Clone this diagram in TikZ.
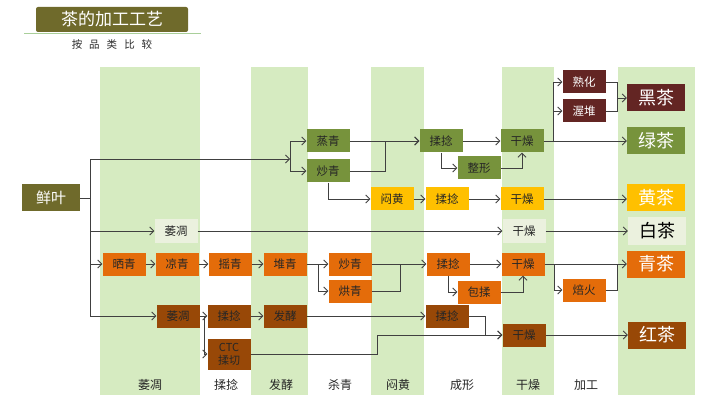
\documentclass[tikz,border=0pt]{standalone}
\usepackage{fontspec}
\setmainfont{Noto Sans CJK SC}
\usetikzlibrary{arrows.meta}
\definecolor{band}{RGB}{214,235,193}
\definecolor{olive}{RGB}{111,106,43}
\definecolor{leafgreen}{RGB}{119,147,60}
\definecolor{darkred}{RGB}{99,37,35}
\definecolor{teayellow}{RGB}{255,192,0}
\definecolor{teaorange}{RGB}{228,108,10}
\definecolor{teabrown}{RGB}{152,72,7}
\definecolor{palebox}{RGB}{235,241,222}
\definecolor{linegray}{RGB}{64,64,64}
\definecolor{titleline}{RGB}{169,207,154}
\tikzset{
  proc/.style={minimum width=43pt, minimum height=23pt, inner sep=0pt, text=black!85, font=\fontsize{11.5}{13}\selectfont},
  grn/.style={proc, fill=leafgreen},
  ylw/.style={proc, fill=teayellow},
  org/.style={proc, fill=teaorange},
  brn/.style={proc, fill=teabrown},
  drd/.style={proc, fill=darkred, text=white},
  pale/.style={proc, fill=palebox},
  tea/.style={minimum width=58pt, minimum height=27pt, inner sep=0pt, text=white, font=\fontsize{18}{20}\selectfont},
  flow/.style={draw=linegray, line width=0.8pt},
  colname/.style={text=black!85, font=\fontsize{12}{14}\selectfont},
}
\begin{document}
\begin{tikzpicture}[x=1pt, y=-1pt, >={Straight Barb[length=4pt,width=8pt]}]
    \useasboundingbox (0,0) rectangle (720,406);
    \fill[band] (100,67) rectangle (200,395);
    \fill[band] (251,67) rectangle (308,395);
    \fill[band] (371,67) rectangle (424,395);
    \fill[band] (502,67) rectangle (554,395);
    \fill[band] (618,67) rectangle (695,395);
    \fill[olive, rounded corners=2pt] (36,7) rectangle (188,32);
    \node[text=white, font=\fontsize{17}{19}\selectfont] (title) at (112,19.5) {茶的加工工艺};
    \draw[titleline, line width=1.5pt] (24,33.5) -- (201,33.5);
    \node[text=black!85, font=\fontsize{10.5}{12}\selectfont] (subtitle) at (112,44) {按\hspace{7pt}品\hspace{7pt}类\hspace{7pt}比\hspace{7pt}较};
    \node[colname] (c1) at (150,385) {萎凋};
    \node[colname] (c2) at (226,385) {揉捻};
    \node[colname] (c3) at (281,385) {发酵};
    \node[colname] (c4) at (340,385) {杀青};
    \node[colname] (c5) at (398,385) {闷黄};
    \node[colname] (c6) at (462,385) {成形};
    \node[colname] (c7) at (528,385) {干燥};
    \node[colname] (c8) at (586,385) {加工};
    \node[proc, fill=olive, text=white, minimum width=58pt, minimum height=27pt, font=\fontsize{15}{17}\selectfont] (xy) at (51,198) {鲜叶};
    \node[grn] (zq) at (328,141) {蒸青};
    \node[grn] (cqg) at (328,171) {炒青};
    \node[grn] (rng) at (441,141) {揉捻};
    \node[grn] (zx) at (479,168) {整形};
    \node[grn] (gzg) at (522,141) {干燥};
    \node[drd] (sh) at (584,82) {熟化};
    \node[drd] (wd) at (584,111) {渥堆};
    \node[tea, fill=darkred] (hei) at (656,98) {黑茶};
    \node[tea, fill=leafgreen] (lv) at (656,141) {绿茶};
    \node[ylw] (mh) at (392,199) {闷黄};
    \node[ylw] (rny) at (447,199) {揉捻};
    \node[ylw] (gzy) at (522,199) {干燥};
    \node[tea, fill=teayellow] (huang) at (656,198) {黄茶};
    \node[pale] (wdw) at (176,231) {萎凋};
    \node[pale] (gzw) at (524,231) {干燥};
    \node[tea, fill=palebox, text=black] (bai) at (657,231) {白茶};
    \node[org] (sq) at (124,264) {晒青};
    \node[org] (lq) at (177,264) {凉青};
    \node[org] (yq) at (230,264) {摇青};
    \node[org] (dq) at (285,264) {堆青};
    \node[org] (cqo) at (350,264) {炒青};
    \node[org] (hq) at (350,291) {烘青};
    \node[org] (rno) at (448,264) {揉捻};
    \node[org] (br) at (479,292) {包揉};
    \node[org] (gzo) at (523,264) {干燥};
    \node[org] (bh) at (584,290) {焙火};
    \node[tea, fill=teaorange] (qing) at (656,264) {青茶};
    \node[brn] (wdb) at (178,316) {萎凋};
    \node[brn] (rnb) at (229,316) {揉捻};
    \node[brn, minimum height=31pt, align=center, font=\fontsize{11}{13}\selectfont] (ctc) at (229,354) {CTC\\揉切};
    \node[brn] (fj) at (285,316) {发酵};
    \node[brn] (rnb2) at (447,316) {揉捻};
    \node[brn] (gzb) at (524,335) {干燥};
    \node[tea, fill=teabrown] (hong) at (657,335) {红茶};
    \coordinate (j0) at (90,198);
    \coordinate (g1) at (290,159);
    \coordinate (b1) at (553,141);
    \coordinate (b2) at (617,98);
    \coordinate (b3) at (318,264);
    \coordinate (b4) at (554,264);
    \coordinate (b5) at (204,316);
    \coordinate (b6) at (377,335);
    \draw[flow] (xy.east) -- (j0);
    \draw[flow, ->] (j0) |- (g1);
    \draw[flow, ->] (g1) |- (zq.west);
    \draw[flow, ->] (g1) |- (cqg.west);
    \draw[flow, ->] (j0) |- (wdw.west);
    \draw[flow, ->] (j0) |- (sq.west);
    \draw[flow, ->] (j0) |- (wdb.west);
    \draw[flow, ->] (zq.east) -- (rng.west);
    \draw[flow, ->] (cqg.east) -- ++(36,0) |- (rng.west);
    \draw[flow, ->] (rng.east) -- (gzg.west);
    \draw[flow, ->] (rng.south) |- (zx.west);
    \draw[flow, ->] (zx.east) -| (gzg.south);
    \draw[flow, ->] (gzg.east) -- (lv.west);
    \draw[flow, ->] (b1) |- (sh.west);
    \draw[flow, ->] (b1) |- (wd.west);
    \draw[flow] (sh.east) -| (b2);
    \draw[flow] (wd.east) -| (b2);
    \draw[flow, ->] (b2) -- (hei.west);
    \draw[flow, ->] (cqg.south) |- (mh.west);
    \draw[flow, ->] (mh.east) -- (rny.west);
    \draw[flow, ->] (rny.east) -- (gzy.west);
    \draw[flow, ->] (gzy.east) -- (gzy.east -| huang.west);
    \draw[flow, ->] (wdw.east) -- (gzw.west);
    \draw[flow, ->] (gzw.east) -- (bai.west);
    \draw[flow, ->] (sq.east) -- (lq.west);
    \draw[flow, ->] (lq.east) -- (yq.west);
    \draw[flow, ->] (yq.east) -- (dq.west);
    \draw[flow, ->] (dq.east) -- (cqo.west);
    \draw[flow, ->] (b3) |- (hq.west);
    \draw[flow, ->] (cqo.east) -- (rno.west);
    \draw[flow] (hq.east) -| (400,264);
    \draw[flow, ->] (rno.east) -- (gzo.west);
    \draw[flow, ->] (rno.south) |- (br.west);
    \draw[flow, ->] (br.east) -| (gzo.south);
    \draw[flow, ->] (gzo.east) -- (qing.west);
    \draw[flow, ->] (b4) |- (bh.west);
    \draw[flow] (bh.east) -| (617,264);
    \draw[flow, ->] (wdb.east) -- (rnb.west);
    \draw[flow, ->] (b5) |- (ctc.west);
    \draw[flow, ->] (rnb.east) -- (fj.west);
    \draw[flow, ->] (fj.east) -- (rnb2.west);
    \draw[flow, ->] (rnb2.east) -- ++(17,0) |- (gzb.west);
    \draw[flow, ->] (ctc.east) -| (b6) -- (gzb.west);
    \draw[flow, ->] (gzb.east) -- (hong.west);
\end{tikzpicture}
\end{document}
